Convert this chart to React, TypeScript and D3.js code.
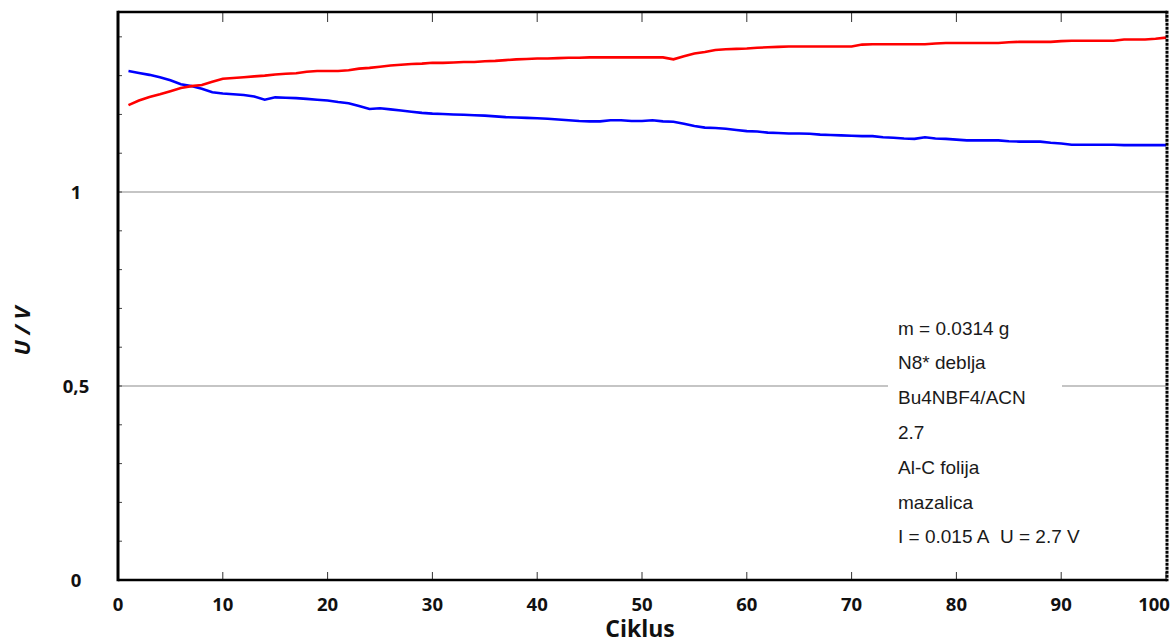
import React from "react";
import * as d3 from "d3";

const cycles = d3.range(1, 101);

const chargeU = [
  1.224, 1.236, 1.245, 1.252, 1.260, 1.268, 1.273, 1.276, 1.284, 1.292,
  1.294, 1.296, 1.298, 1.300, 1.303, 1.305, 1.306, 1.310, 1.312, 1.312,
  1.312, 1.314, 1.318, 1.320, 1.323, 1.326, 1.328, 1.330, 1.331, 1.333,
  1.333, 1.334, 1.335, 1.335, 1.337, 1.338, 1.340, 1.342, 1.343, 1.344,
  1.344, 1.345, 1.346, 1.346, 1.347, 1.347, 1.347, 1.347, 1.347, 1.347,
  1.347, 1.347, 1.342, 1.350, 1.357, 1.361, 1.366, 1.368, 1.369, 1.370,
  1.372, 1.373, 1.374, 1.375, 1.375, 1.375, 1.375, 1.375, 1.375, 1.375,
  1.380, 1.381, 1.381, 1.381, 1.381, 1.381, 1.381, 1.383, 1.384, 1.384,
  1.384, 1.384, 1.384, 1.384, 1.386, 1.387, 1.387, 1.387, 1.387, 1.389,
  1.390, 1.390, 1.390, 1.390, 1.390, 1.393, 1.393, 1.393, 1.395, 1.398,
];

const dischargeU = [
  1.312, 1.307, 1.302, 1.296, 1.288, 1.278, 1.273, 1.266, 1.257, 1.254,
  1.252, 1.250, 1.246, 1.238, 1.244, 1.243, 1.242, 1.240, 1.238, 1.236,
  1.232, 1.229, 1.222, 1.214, 1.216, 1.213, 1.210, 1.207, 1.204, 1.202,
  1.201, 1.200, 1.199, 1.198, 1.197, 1.195, 1.193, 1.192, 1.191, 1.190,
  1.189, 1.187, 1.185, 1.183, 1.182, 1.182, 1.185, 1.185, 1.183, 1.183,
  1.185, 1.182, 1.181, 1.176, 1.170, 1.166, 1.165, 1.163, 1.160, 1.157,
  1.156, 1.153, 1.152, 1.151, 1.151, 1.150, 1.148, 1.147, 1.146, 1.145,
  1.144, 1.144, 1.141, 1.140, 1.138, 1.137, 1.141, 1.138, 1.137, 1.135,
  1.133, 1.133, 1.133, 1.133, 1.131, 1.130, 1.130, 1.130, 1.127, 1.125,
  1.122, 1.122, 1.122, 1.122, 1.122, 1.121, 1.121, 1.121, 1.121, 1.121,
];

const xTicks = [0, 10, 20, 30, 40, 50, 60, 70, 80, 90, 100];
const yTicks = [0, 0.5, 1];
const yTickLabels = ["0", "0,5", "1"];
const yMinorTicks = d3.range(1, 15).map((i) => i / 10);
const gridValues = [0.5, 1];

const annotation = [
  "m = 0.0314 g",
  "N8* deblja",
  "Bu4NBF4/ACN",
  "2.7",
  "Al-C folija",
  "mazalica",
  "I = 0.015 A\u00a0\u00a0U = 2.7 V",
];

const W = 1174;
const H = 643;
const L = 118;
const R = 1166;
const T = 12;
const B = 580;

export default function App() {
  const x = d3.scaleLinear().domain([0, 100]).range([L, R]);
  const y = d3.scaleLinear().domain([0, 1.464]).range([B, T]);

  const line = d3
    .line<number>()
    .x((_, i) => x(cycles[i]))
    .y((d) => y(d));

  const tickFont = "'Open Sans', 'DejaVu Sans', sans-serif";
  const annFont = "'Liberation Sans', Arial, sans-serif";

  return (
    <svg
      width={W}
      height={H}
      style={{ position: "absolute", left: 0, top: 0, background: "#fff" }}
    >
      <rect x={0} y={0} width={W} height={H} fill="#fff" />
      {gridValues.map((v) => (
        <line
          key={v}
          x1={L}
          x2={R}
          y1={y(v)}
          y2={y(v)}
          stroke="#8c8c8c"
          strokeWidth={1.2}
        />
      ))}
      {yMinorTicks.map((v) => (
        <line
          key={v}
          x1={L}
          x2={L + 4}
          y1={y(v)}
          y2={y(v)}
          stroke="#444"
          strokeWidth={1}
        />
      ))}
      {xTicks.map((t) => (
        <g key={t}>
          <line x1={x(t)} x2={x(t)} y1={B} y2={B - 8} stroke="#333" strokeWidth={1} />
          <line x1={x(t)} x2={x(t)} y1={T} y2={T + 10} stroke="#333" strokeWidth={1} />
          <text
            x={x(t) + (t === 100 ? -12 : 0)}
            y={611}
            textAnchor="middle"
            fontFamily={tickFont}
            fontWeight="bold"
            fontSize={18.5}
            fill="#111"
          >
            {t}
          </text>
        </g>
      ))}
      {yTicks.map((v, i) => (
        <text
          key={v}
          x={76}
          y={y(v) + 6.5}
          textAnchor="middle"
          fontFamily={tickFont}
          fontWeight="bold"
          fontSize={18.5}
          fill="#111"
        >
          {yTickLabels[i]}
        </text>
      ))}
      <rect x={888} y={305} width={174} height={250} fill="#fff" />
      {annotation.map((s, i) => (
        <text
          key={i}
          x={898}
          y={334.5 + i * 34.8}
          fontFamily={annFont}
          fontSize={19}
          fill="#1a1a1a"
        >
          {s}
        </text>
      ))}
      <path d={line(dischargeU) || ""} fill="none" stroke="#0000ff" strokeWidth={2.6} />
      <path d={line(chargeU) || ""} fill="none" stroke="#ff0000" strokeWidth={2.6} />
      <line x1={L} x2={R + 1} y1={T} y2={T} stroke="#000" strokeWidth={2.6} />
      <line x1={L} x2={R + 1} y1={B} y2={B} stroke="#000" strokeWidth={2.6} />
      <line x1={L} x2={L} y1={T - 1.3} y2={B + 1.3} stroke="#000" strokeWidth={3} />
      <line
        x1={R + 1}
        x2={R + 1}
        y1={T - 1.3}
        y2={B + 1.3}
        stroke="#000"
        strokeWidth={3}
        strokeDasharray="3 1"
      />
      <text
        x={640}
        y={637}
        textAnchor="middle"
        fontFamily={tickFont}
        fontWeight="bold"
        fontSize={23}
        fill="#111"
      >
        Ciklus
      </text>
      <text
        transform={`translate(30, 331) rotate(-90)`}
        textAnchor="middle"
        fontFamily={tickFont}
        fontWeight="bold"
        fontStyle="italic"
        fontSize={22}
        fill="#111"
      >
        U / V
      </text>
    </svg>
  );
}
